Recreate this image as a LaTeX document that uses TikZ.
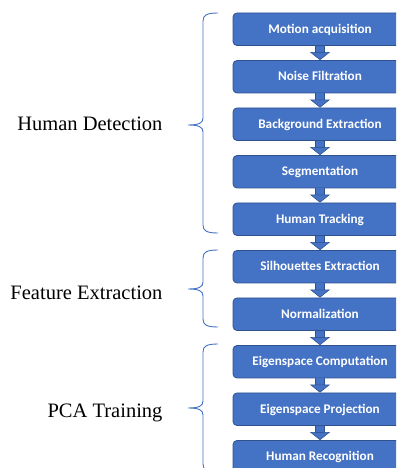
\documentclass[tikz,border=0pt]{standalone}
\usepackage{fontspec}
\setmainfont{Liberation Serif}
\newfontfamily\stepfont{Carlito}
\usetikzlibrary{arrows.meta}

\definecolor{boxblue}{HTML}{4472C4}
\definecolor{boxedge}{HTML}{2F528F}

\tikzset{
    stagebox/.style={draw=boxedge, fill=boxblue, line width=0.8pt, rounded corners=4pt,
        minimum width=174pt, minimum height=32.5pt, inner sep=0pt, text=white,
        text height=9.5pt, text depth=1.5pt,
        font=\stepfont\bfseries\fontsize{13.2}{16}\selectfont},
    flowarrow/.style={draw=boxblue, line width=8pt,
        -{Triangle[width=20pt, length=8pt, line width=0.6pt, color=boxedge, fill=boxblue]},
        preaction={draw=boxedge, line width=9.2pt, shorten >=7pt, -}},
    stagebrace/.style={draw=boxblue, line width=0.9pt},
    stagelabel/.style={anchor=base east, font=\fontsize{20.5}{24}\selectfont}
}

\begin{document}
\begin{tikzpicture}[x=1pt, y=1pt]
    \useasboundingbox (0,0) rectangle (396,468);
    \clip (0,0) rectangle (396,468);

    % processing steps
    \foreach \txt [count=\i] in {Motion acquisition, Noise Filtration, Background Extraction,
        Segmentation, Human Tracking, Silhouettes Extraction, Normalization,
        Eigenspace Computation, Eigenspace Projection, Human Recognition}
    \node[stagebox] (b\i) at (320, 486.25 - 47.5*\i) {\txt};

    \foreach \i/\j in {1/2, 2/3, 3/4, 4/5, 5/6, 6/7, 7/8, 8/9, 9/10}
    \draw[flowarrow] (b\i) -- (b\j);

    % braces
    \foreach \ytop/\ymid/\ybot in {455/343/235, 218/179/141, 124/60/-4}
    \draw[stagebrace] (218,\ytop) .. controls (207,\ytop) and (203,\ytop-2) .. (203,\ytop-8)
        -- (203,\ymid+7) .. controls (203,\ymid+2) and (199,\ymid) .. (188,\ymid)
        .. controls (199,\ymid) and (203,\ymid-2) .. (203,\ymid-7)
        -- (203,\ybot+8) .. controls (203,\ybot+2) and (207,\ybot) .. (218,\ybot);

    \node[stagelabel] (detection) at (166,337) {Human Detection};
    \node[stagelabel] (feature) at (166,168) {Feature Extraction};
    \node[stagelabel] (training) at (166,50) {PCA Training};
\end{tikzpicture}
\end{document}
